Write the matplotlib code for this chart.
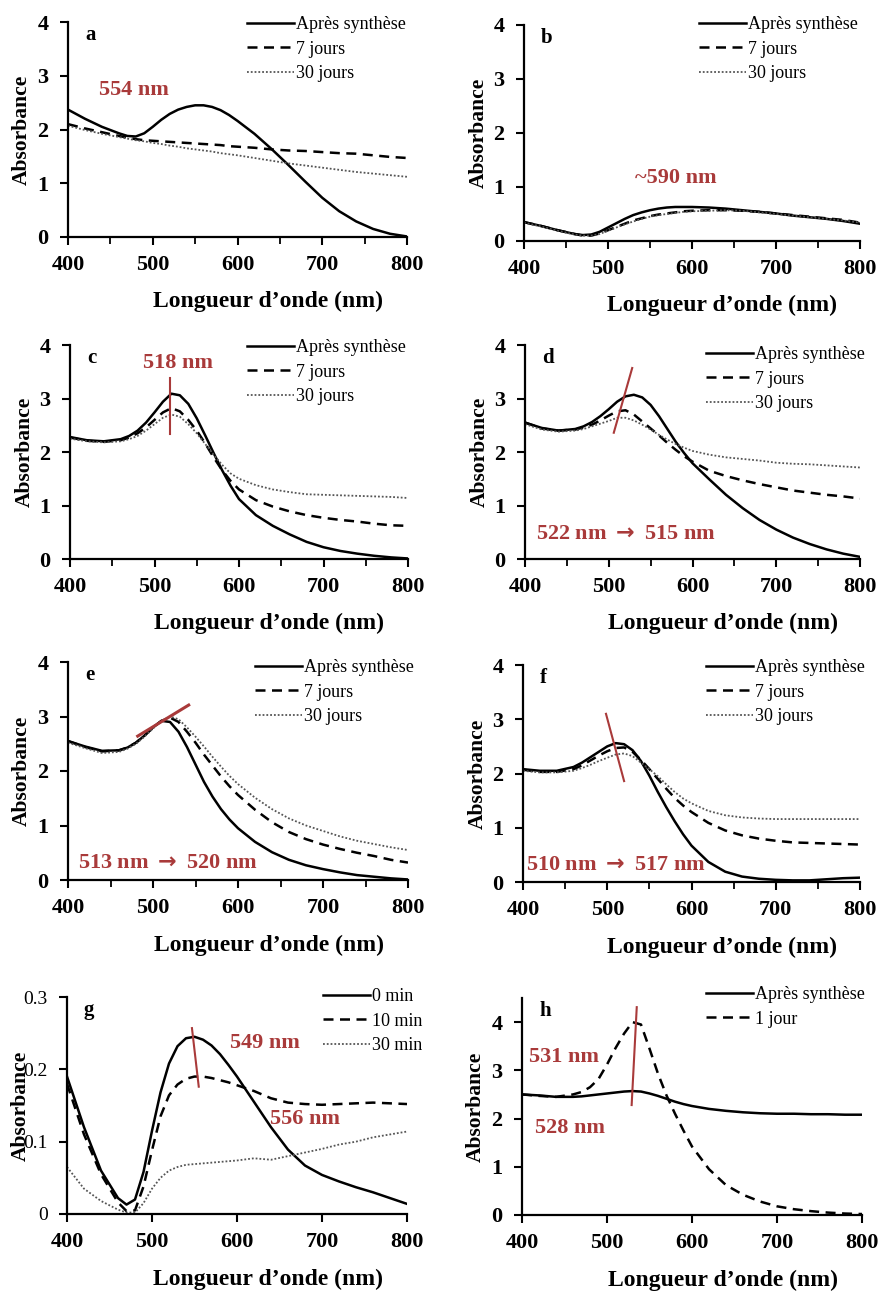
import matplotlib
matplotlib.use("Agg")
import matplotlib.pyplot as plt
from matplotlib.ticker import MultipleLocator

plt.rcParams['font.family'] = ['Liberation Serif', 'DejaVu Serif']
plt.rcParams['mathtext.fontset'] = 'dejavusans'

W, H = 882, 1293
RED = '#A93A3A'

# wavelength grid (nm), shared by all panels
WL = [400, 420, 440, 460, 470, 480, 490, 500, 510, 520, 530, 540, 550, 560,
      570, 580, 590, 600, 620, 640, 660, 680, 700, 720, 740, 760, 780, 800]

# panel a
a_apres = [2.37, 2.20, 2.05, 1.93, 1.88, 1.87, 1.93, 2.05, 2.18, 2.29, 2.37, 2.42, 2.45, 2.45,
           2.42, 2.36, 2.27, 2.16, 1.92, 1.64, 1.34, 1.03, 0.73, 0.48, 0.29, 0.15, 0.06, 0.01]
a_7j = [2.10, 2.02, 1.95, 1.88, 1.85, 1.82, 1.80, 1.79, 1.78, 1.77, 1.76, 1.75, 1.74, 1.73,
        1.72, 1.71, 1.69, 1.68, 1.66, 1.63, 1.61, 1.60, 1.58, 1.56, 1.55, 1.52, 1.49, 1.47]
a_30j = [2.07, 1.99, 1.92, 1.86, 1.83, 1.80, 1.78, 1.75, 1.73, 1.70, 1.68, 1.65, 1.63, 1.61,
         1.59, 1.56, 1.54, 1.52, 1.47, 1.42, 1.37, 1.33, 1.29, 1.25, 1.21, 1.18, 1.15, 1.12]

# panel b
b_apres = [0.35, 0.28, 0.20, 0.13, 0.11, 0.12, 0.17, 0.25, 0.33, 0.41, 0.48, 0.53, 0.57, 0.60,
           0.62, 0.63, 0.63, 0.63, 0.62, 0.60, 0.57, 0.54, 0.51, 0.47, 0.44, 0.41, 0.37, 0.32]
b_7j = [0.35, 0.28, 0.20, 0.13, 0.10, 0.10, 0.14, 0.20, 0.26, 0.32, 0.38, 0.42, 0.46, 0.49,
        0.51, 0.53, 0.55, 0.56, 0.57, 0.57, 0.56, 0.54, 0.51, 0.48, 0.45, 0.42, 0.39, 0.34]
b_30j = [0.34, 0.27, 0.19, 0.12, 0.10, 0.10, 0.13, 0.19, 0.25, 0.31, 0.36, 0.41, 0.45, 0.48,
         0.50, 0.52, 0.54, 0.55, 0.56, 0.57, 0.56, 0.53, 0.50, 0.47, 0.44, 0.41, 0.38, 0.34]

# panel c
c_apres = [2.28, 2.22, 2.20, 2.24, 2.30, 2.40, 2.55, 2.74, 2.94, 3.09, 3.06, 2.90, 2.63, 2.31,
           1.98, 1.66, 1.37, 1.12, 0.82, 0.62, 0.46, 0.32, 0.22, 0.15, 0.10, 0.06, 0.03, 0.01]
c_7j = [2.27, 2.21, 2.19, 2.22, 2.27, 2.35, 2.46, 2.60, 2.74, 2.82, 2.76, 2.60, 2.40, 2.16,
        1.90, 1.66, 1.46, 1.30, 1.10, 0.98, 0.89, 0.82, 0.77, 0.73, 0.70, 0.66, 0.63, 0.62]
c_30j = [2.25, 2.20, 2.18, 2.20, 2.24, 2.30, 2.40, 2.52, 2.64, 2.70, 2.66, 2.52, 2.35, 2.15,
         1.95, 1.76, 1.60, 1.50, 1.38, 1.30, 1.25, 1.21, 1.20, 1.19, 1.18, 1.17, 1.16, 1.14]

# panel d
d_apres = [2.55, 2.45, 2.40, 2.43, 2.48, 2.56, 2.67, 2.80, 2.94, 3.04, 3.07, 3.02, 2.88, 2.67,
           2.43, 2.19, 1.98, 1.79, 1.49, 1.20, 0.95, 0.73, 0.55, 0.40, 0.28, 0.18, 0.10, 0.04]
d_7j = [2.55, 2.44, 2.40, 2.42, 2.46, 2.51, 2.59, 2.68, 2.76, 2.78, 2.70, 2.57, 2.44, 2.31,
        2.17, 2.04, 1.92, 1.82, 1.65, 1.55, 1.47, 1.40, 1.34, 1.28, 1.24, 1.20, 1.17, 1.13]
d_30j = [2.52, 2.42, 2.38, 2.40, 2.43, 2.48, 2.53, 2.58, 2.64, 2.64, 2.59, 2.51, 2.42, 2.32,
         2.23, 2.15, 2.08, 2.02, 1.95, 1.90, 1.87, 1.84, 1.80, 1.78, 1.77, 1.75, 1.73, 1.71]

# panel e
e_apres = [2.55, 2.45, 2.37, 2.38, 2.43, 2.52, 2.65, 2.80, 2.92, 2.90, 2.72, 2.44, 2.12, 1.80,
           1.53, 1.30, 1.11, 0.95, 0.70, 0.51, 0.37, 0.27, 0.20, 0.14, 0.09, 0.06, 0.03, 0.01]
e_7j = [2.55, 2.44, 2.36, 2.38, 2.43, 2.52, 2.65, 2.80, 2.92, 2.98, 2.90, 2.72, 2.52, 2.30,
        2.10, 1.90, 1.72, 1.56, 1.29, 1.06, 0.88, 0.75, 0.65, 0.57, 0.50, 0.44, 0.37, 0.32]
e_30j = [2.52, 2.42, 2.33, 2.35, 2.41, 2.50, 2.63, 2.78, 2.92, 3.00, 2.95, 2.80, 2.63, 2.45,
         2.26, 2.08, 1.91, 1.76, 1.51, 1.30, 1.13, 1.00, 0.90, 0.80, 0.72, 0.66, 0.60, 0.55]

# panel f
f_apres = [2.08, 2.05, 2.05, 2.12, 2.20, 2.30, 2.40, 2.50, 2.56, 2.54, 2.43, 2.23, 1.96, 1.66,
           1.38, 1.12, 0.88, 0.67, 0.37, 0.19, 0.10, 0.06, 0.04, 0.03, 0.03, 0.05, 0.07, 0.08]
f_7j = [2.07, 2.03, 2.03, 2.08, 2.15, 2.24, 2.33, 2.41, 2.47, 2.48, 2.40, 2.25, 2.08, 1.90,
        1.72, 1.55, 1.41, 1.29, 1.09, 0.95, 0.86, 0.80, 0.76, 0.73, 0.72, 0.71, 0.70, 0.69]
f_30j = [2.05, 2.02, 2.02, 2.05, 2.10, 2.16, 2.23, 2.29, 2.35, 2.37, 2.32, 2.20, 2.08, 1.95,
         1.80, 1.66, 1.54, 1.45, 1.31, 1.23, 1.19, 1.17, 1.16, 1.16, 1.16, 1.16, 1.16, 1.16]

# panel g
g_0min = [0.190, 0.120, 0.060, 0.022, 0.013, 0.020, 0.058, 0.115, 0.168, 0.208, 0.232, 0.243, 0.245, 0.241,
          0.233, 0.221, 0.206, 0.190, 0.155, 0.120, 0.089, 0.067, 0.054, 0.045, 0.037, 0.030, 0.022, 0.014]
g_10min = [0.180, 0.110, 0.055, 0.016, 0.004, 0.005, 0.038, 0.088, 0.135, 0.164, 0.179, 0.187, 0.190, 0.190,
           0.188, 0.185, 0.182, 0.178, 0.170, 0.160, 0.154, 0.152, 0.151, 0.152, 0.153, 0.154, 0.153, 0.152]
g_30min = [0.065, 0.035, 0.018, 0.006, 0.002, 0.002, 0.015, 0.035, 0.050, 0.060, 0.065, 0.068, 0.069, 0.070,
           0.071, 0.072, 0.073, 0.074, 0.077, 0.075, 0.080, 0.085, 0.090, 0.096, 0.100, 0.106, 0.110, 0.114]

# panel h
h_apres = [2.50, 2.48, 2.45, 2.45, 2.46, 2.48, 2.50, 2.52, 2.54, 2.56, 2.57, 2.56, 2.52, 2.47,
           2.41, 2.35, 2.30, 2.26, 2.20, 2.16, 2.13, 2.11, 2.10, 2.10, 2.09, 2.09, 2.08, 2.08]
h_1j = [2.50, 2.47, 2.45, 2.50, 2.55, 2.65, 2.82, 3.12, 3.46, 3.76, 4.00, 3.95, 3.45, 2.93,
        2.48, 2.10, 1.75, 1.42, 0.95, 0.62, 0.42, 0.28, 0.18, 0.12, 0.08, 0.05, 0.03, 0.02]

LABELS_J = ['Après synthèse', '7 jours', '30 jours']
LABELS_G = ['0 min', '10 min', '30 min']
LABELS_H = ['Après synthèse', '1 jour']

STYLES = [dict(color='black', lw=1.8, ls='-'),
          dict(color='black', lw=1.8, ls=(0, (4, 2.6))),
          dict(color='#555555', lw=1.3, ls=(0, (1, 1.1)))]

fig = plt.figure(figsize=(W / 100, H / 100), dpi=100)


def make_ax(x0, x1, ytop, ybot):
    return fig.add_axes([x0 / W, 1 - ybot / H, (x1 - x0) / W, (ybot - ytop) / H])


def style_ax(ax, ymax, yticks, letter, minor=True, bold_y=True):
    ax.set_xlim(400, 800)
    ax.set_ylim(0, ymax)
    ax.set_xticks([400, 500, 600, 700, 800])
    ax.set_yticks(yticks)
    if minor:
        ax.xaxis.set_minor_locator(MultipleLocator(50))
    for s in ['top', 'right']:
        ax.spines[s].set_visible(False)
    for s in ['left', 'bottom']:
        ax.spines[s].set_linewidth(1.6)
    ax.tick_params(axis='both', which='major', direction='out', length=6, width=1.5)
    ax.tick_params(axis='x', which='minor', direction='out', length=5, width=1.3)
    ax.tick_params(axis='x', pad=7, labelsize=16)
    ax.tick_params(axis='y', pad=8, labelsize=16 if bold_y else 14)
    for t in ax.get_xticklabels():
        t.set_fontweight('bold')
    for t in ax.get_yticklabels():
        t.set_fontweight('bold' if bold_y else 'normal')
    ax.set_xlabel("Longueur d’onde (nm)", fontsize=17, fontweight='bold', va='center')
    ax.xaxis.set_label_coords(0.59, -0.30)
    ax.set_ylabel('Absorbance', fontsize=15.5, fontweight='bold', va='center')
    ax.yaxis.set_label_coords(-0.135, 0.5)
    ax.text(0.05, 0.94, letter, transform=ax.transAxes, fontsize=15,
            fontweight='bold', va='center', ha='left')


def add_legend(ax, hx, hy, x0, x1, ytop, ybot):
    bx = (hx - x0) / (x1 - x0)
    by = (ybot - (hy - 9)) / (ybot - ytop)
    ax.legend(loc='upper left', bbox_to_anchor=(bx, by), frameon=False,
              fontsize=13, handlelength=2.6, handletextpad=0.1, labelspacing=0.42,
              borderpad=0, borderaxespad=0)


panels = [
    ('a', (68, 407, 22, 237), [a_apres, a_7j, a_30j], LABELS_J, (247, 25)),
    ('b', (524, 860, 25, 241), [b_apres, b_7j, b_30j], LABELS_J, (699, 25)),
    ('c', (70, 408, 345, 559), [c_apres, c_7j, c_30j], LABELS_J, (247, 348)),
    ('d', (525, 860, 345, 559), [d_apres, d_7j, d_30j], LABELS_J, (706, 355)),
    ('e', (68, 408, 662, 880), [e_apres, e_7j, e_30j], LABELS_J, (255, 668)),
    ('f', (523, 860, 665, 882), [f_apres, f_7j, f_30j], LABELS_J, (706, 668)),
    ('g', (67, 407, 997, 1214), [g_0min, g_10min, g_30min], LABELS_G, (323, 997)),
    ('h', (522, 862, 998, 1215), [h_apres, h_1j], LABELS_H, (706, 995)),
]

axes = {}
for letter, box, series, labels, leg in panels:
    ax = make_ax(*box)
    for ys, lab, st in zip(series, labels, STYLES):
        ax.plot(WL, ys, label=lab, **st)
    if letter == 'g':
        style_ax(ax, 0.3, [0, 0.1, 0.2, 0.3], letter, minor=False, bold_y=False)
        ax.set_yticklabels(['0', '0.1', '0.2', '0.3'])
    elif letter == 'h':
        style_ax(ax, 4.5, [0, 1, 2, 3, 4], letter, minor=False)
    else:
        style_ax(ax, 4, [0, 1, 2, 3, 4], letter)
    add_legend(ax, leg[0], leg[1], *box)
    axes[letter] = ax

red = dict(color=RED, fontsize=16, fontweight='bold')
ARROW = r' $\mathbf{\rightarrow}$ '
ax = axes['a']
ax.text(478, 2.73, '554 nm', ha='center', va='center', **red)
ax = axes['b']
ax.text(581, 1.17, '~590 nm', ha='center', va='center', **red)
ax = axes['c']
ax.plot([518, 518], [2.33, 3.38], color=RED, lw=1.5)
ax.text(528, 3.66, '518 nm', ha='center', va='center', **red)
ax = axes['d']
ax.plot([506, 528], [2.36, 3.57], color=RED, lw=1.5)
ax.text(413, 0.47, '522 nm' + ARROW + '515 nm', ha='left', va='center', **red)
ax = axes['e']
ax.plot([482, 542], [2.64, 3.21], color=RED, lw=2.2)
ax.text(412, 0.31, '513 nm' + ARROW + '520 nm', ha='left', va='center', **red)
ax = axes['f']
ax.plot([498.5, 520], [3.1, 1.86], color=RED, lw=1.5)
ax.text(403, 0.31, '510 nm' + ARROW + '517 nm', ha='left', va='center', **red)
ax = axes['g']
ax.plot([547, 555], [0.257, 0.176], color=RED, lw=1.5)
ax.text(633, 0.236, '549 nm', ha='center', va='center', **red)
ax.text(680, 0.131, '556 nm', ha='center', va='center', **red)
ax = axes['h']
ax.plot([529, 535], [2.28, 4.31], color=RED, lw=1.5)
ax.text(449, 3.27, '531 nm', ha='center', va='center', **red)
ax.text(456, 1.8, '528 nm', ha='center', va='center', **red)

fig.savefig('out.png', dpi=100)
